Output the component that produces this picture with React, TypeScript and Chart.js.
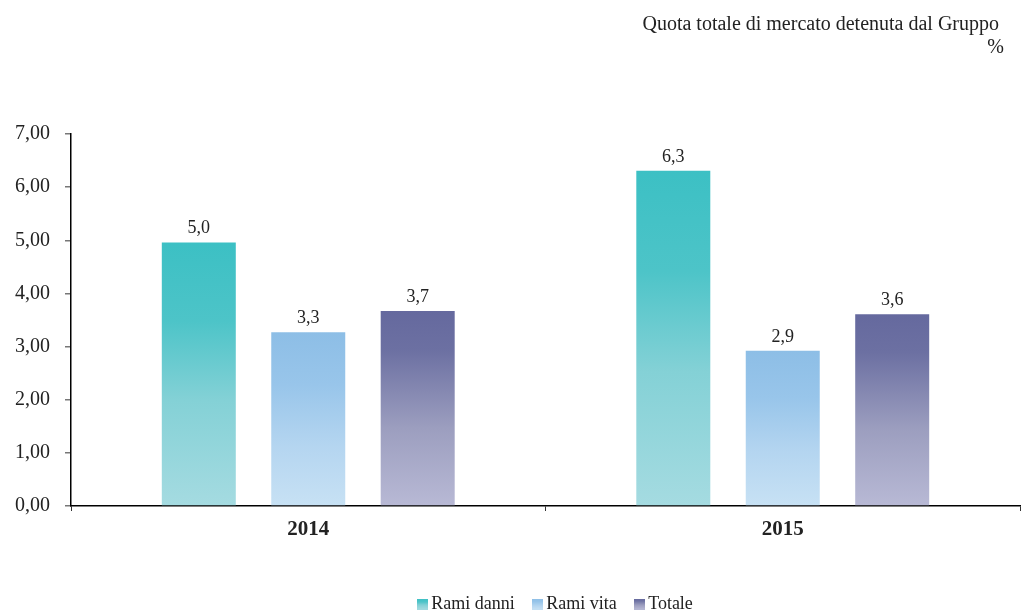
import React, { useEffect, useRef } from "react";
import { Chart, registerables } from "chart.js";

Chart.register(...registerables);

// ---- data ----
const categories: string[] = ["2014", "2015"];
const seriesNames: string[] = ["Rami danni", "Rami vita", "Totale"];
const ramiDanni: number[] = [4.96, 6.31];
const ramiVita: number[] = [3.27, 2.92];
const totale: number[] = [3.67, 3.61];
const yMin = 0;
const yMax = 7;
const yStep = 1;
const titleLines: string[] = ["Quota totale di mercato detenuta dal Gruppo", "%"];

// ---- styles ----
const SERIF = '"Liberation Serif", "Times New Roman", serif';
const TEXT = "#222222";
type Stop = [number, string];
const palettes: Stop[][] = [
  [[0, "#3CC0C4"], [0.3, "#4DC4C8"], [0.6, "#84D1D6"], [1, "#A5DBE1"]],
  [[0, "#8DBEE6"], [0.3, "#98C5EA"], [0.65, "#B4D5F0"], [1, "#C7E1F4"]],
  [[0, "#65699E"], [0.2, "#6C70A2"], [0.6, "#9C9EBF"], [1, "#B8B9D5"]],
];

const fmt1 = (v: number) => v.toFixed(1).replace(".", ",");
const fmt2 = (v: number) => v.toFixed(2).replace(".", ",");

const barFill = (stops: Stop[]) => (ctx: any) => {
  const chart = ctx.chart;
  if (!chart.chartArea || ctx.type !== "data") return stops[0][1];
  const y = chart.scales.y;
  const top = y.getPixelForValue(ctx.raw);
  const bottom = y.getPixelForValue(0);
  const g = chart.ctx.createLinearGradient(0, top, 0, bottom);
  stops.forEach(([o, c]) => g.addColorStop(o, c));
  return g;
};

const legendSwatch = (stops: Stop[]) => {
  const c = document.createElement("canvas");
  c.width = 11;
  c.height = 11;
  const x = c.getContext("2d")!;
  const g = x.createLinearGradient(0, 0, 0, 11);
  stops.forEach(([o, col]) => g.addColorStop(o, col));
  x.fillStyle = g;
  x.fillRect(0, 0, 11, 11);
  return c;
};

const valueLabels = {
  id: "valueLabels",
  afterDatasetsDraw(chart: any) {
    const { ctx } = chart;
    ctx.save();
    ctx.font = `18px ${SERIF}`;
    ctx.fillStyle = TEXT;
    ctx.textAlign = "center";
    ctx.textBaseline = "alphabetic";
    chart.data.datasets.forEach((ds: any, i: number) => {
      const meta = chart.getDatasetMeta(i);
      meta.data.forEach((bar: any, j: number) => {
        ctx.fillText(fmt1(ds.data[j]), bar.x, bar.y - 9);
      });
    });
    ctx.restore();
  },
};

const cornerTitle = {
  id: "cornerTitle",
  afterDraw(chart: any) {
    const { ctx } = chart;
    ctx.save();
    ctx.font = `20px ${SERIF}`;
    ctx.fillStyle = TEXT;
    ctx.textAlign = "right";
    ctx.textBaseline = "alphabetic";
    ctx.fillText(titleLines[0], 999, 30);
    ctx.fillText(titleLines[1], 1004, 53);
    ctx.restore();
  },
};

const legendShift = {
  id: "legendShift",
  afterLayout(chart: any) {
    const l = chart.legend;
    if (l) {
      l.left += 12;
      l.right += 12;
    }
  },
};

export default function App() {
  const ref = useRef<HTMLCanvasElement | null>(null);

  useEffect(() => {
    document.body.style.margin = "0";
    const canvas = ref.current;
    if (!canvas) return;
    const values = [ramiDanni, ramiVita, totale];
    const swatches = palettes.map(legendSwatch);

    const chart = new Chart(canvas, {
      type: "bar",
      data: {
        labels: categories,
        datasets: seriesNames.map((name, i) => ({
          label: name,
          data: values[i],
          backgroundColor: barFill(palettes[i]),
          borderWidth: 0,
          categoryPercentage: 0.692,
          barPercentage: 0.676,
        })),
      },
      options: {
        responsive: false,
        animation: false,
        devicePixelRatio: 1,
        layout: { padding: { top: 134, left: 0, right: 1, bottom: -11 } },
        plugins: {
          title: { display: false },
          tooltip: { enabled: false },
          legend: {
            display: true,
            position: "bottom",
            fullSize: false,
            labels: {
              usePointStyle: true,
              pointStyleWidth: 0.01,
              boxWidth: 11,
              boxHeight: 11,
              padding: 22.5,
              color: TEXT,
              font: { family: SERIF, size: 18 },
              generateLabels: () =>
                seriesNames.map((name, i) => ({
                  text: name,
                  fillStyle: palettes[i][0][1],
                  strokeStyle: "rgba(0,0,0,0)",
                  lineWidth: 0,
                  pointStyle: swatches[i],
                  hidden: false,
                  datasetIndex: i,
                  fontColor: TEXT,
                })),
            },
          },
        },
        scales: {
          x: {
            offset: true,
            grid: {
              offset: true,
              drawOnChartArea: false,
              drawTicks: true,
              tickLength: 5,
              color: "#333333",
            },
            border: { display: true, color: "#000000", width: 1.5 },
            ticks: {
              padding: 6,
              color: TEXT,
              font: { family: SERIF, size: 21, weight: "bold" },
            },
            afterFit: (scale: any) => {
              scale.height = 66.5;
            },
          },
          y: {
            min: yMin,
            max: yMax,
            grid: {
              drawOnChartArea: false,
              drawTicks: true,
              tickLength: 6,
              color: "#777777",
              lineWidth: 1.5,
            },
            border: { display: true, color: "#000000", width: 1.5 },
            ticks: {
              stepSize: yStep,
              padding: 15,
              color: TEXT,
              font: { family: SERIF, size: 20 },
              callback: (v: any) => fmt2(Number(v)),
            },
            afterFit: (scale: any) => {
              scale.width = 71;
            },
          },
        },
      },
      plugins: [valueLabels, cornerTitle, legendShift],
    });
    return () => chart.destroy();
  }, []);

  return (
    <div style={{ width: 1021, height: 612 }}>
      <canvas ref={ref} width={1021} height={612} />
    </div>
  );
}
